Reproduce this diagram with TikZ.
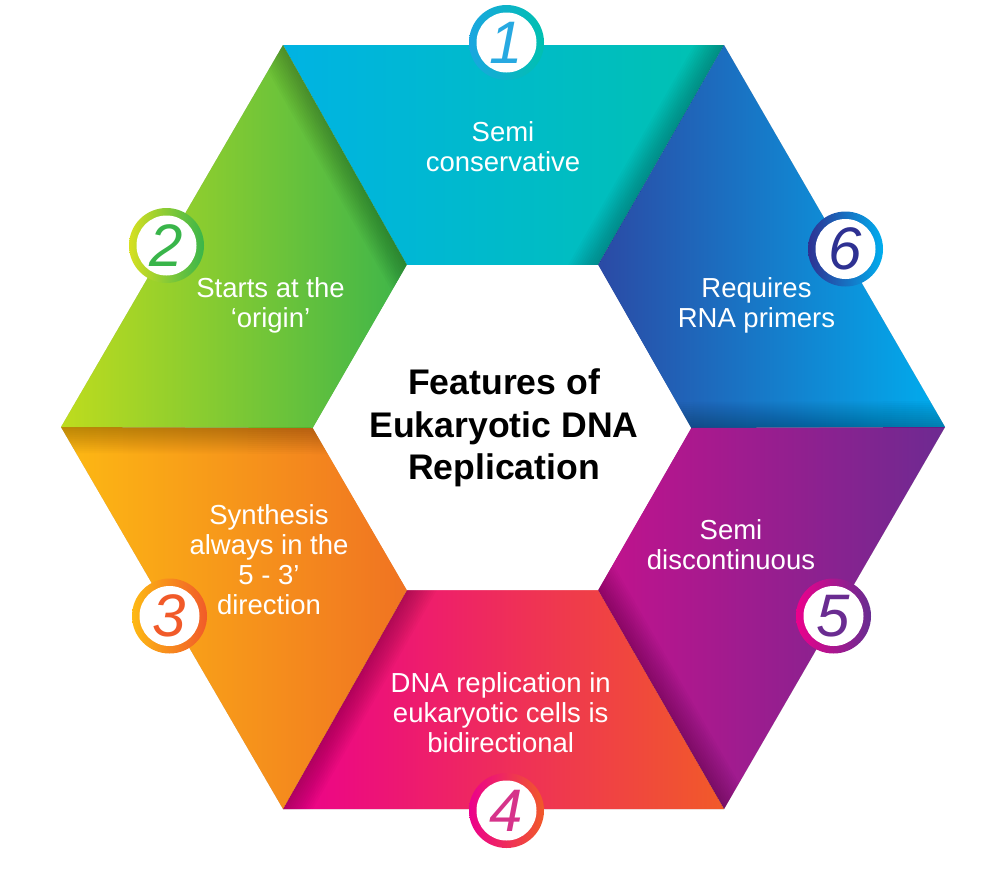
\documentclass[tikz,border=0pt]{standalone}
\usepackage{fontspec}
\setmainfont{Liberation Sans}
\definecolor{s1l}{HTML}{00B3E3}\definecolor{s1r}{HTML}{00C2B0}
\definecolor{s2l}{HTML}{BEDC1E}\definecolor{s2r}{HTML}{3DB54A}
\definecolor{s3l}{HTML}{FDB913}\definecolor{s3r}{HTML}{F07322}
\definecolor{s4l}{HTML}{EC008C}\definecolor{s4r}{HTML}{F15A29}
\definecolor{s5l}{HTML}{C2128D}\definecolor{s5r}{HTML}{6D2A91}
\definecolor{s6l}{HTML}{2B4AA5}\definecolor{s6r}{HTML}{00AEEF}
\definecolor{r1l}{HTML}{1AA6E0}\definecolor{r1r}{HTML}{00C0B0}
\definecolor{r2l}{HTML}{D7E021}\definecolor{r2r}{HTML}{39B54A}
\definecolor{r3l}{HTML}{FDB913}\definecolor{r3r}{HTML}{F15A29}
\definecolor{r4l}{HTML}{EC008C}\definecolor{r4r}{HTML}{F15A29}
\definecolor{r5l}{HTML}{EC008C}\definecolor{r5r}{HTML}{662D91}
\definecolor{r6l}{HTML}{2E3192}\definecolor{r6r}{HTML}{00AEEF}
\definecolor{d1}{HTML}{27A9E1}\definecolor{d2}{HTML}{39B54A}
\definecolor{d3}{HTML}{F15A29}\definecolor{d4}{HTML}{D6338A}
\definecolor{d5}{HTML}{6A2C91}\definecolor{d6}{HTML}{2E3192}
\tikzset{
  lbl/.style={text=white, align=center, inner sep=0pt, font=\fontsize{27.5}{30}\selectfont},
  title/.style={text=black, align=center, inner sep=0pt, font=\fontsize{35.6}{42.5}\selectfont\bfseries},
  numdisc/.style={circle, fill=white, minimum size=60pt, inner sep=0pt, font=\fontsize{60}{60}\selectfont\itshape},
  foldshade/.style={draw=black, opacity=0.02, line cap=rect}
}
\begin{document}
\begin{tikzpicture}[x=1pt,y=-1pt]
\useasboundingbox (0,0) rectangle (1006,886);
\coordinate (TL) at (283,45);  \coordinate (TR) at (724,45);
\coordinate (R)  at (945,427); \coordinate (BR) at (724,809);
\coordinate (BL) at (283,809); \coordinate (L)  at (61,427);
\coordinate (iTL) at (407,265); \coordinate (iTR) at (598,265);
\coordinate (iR)  at (691,428); \coordinate (iBR) at (598,590);
\coordinate (iBL) at (407,590); \coordinate (iL)  at (313,428);
% soft outer shadow
\foreach \i in {1,...,14}{
  \fill[black, opacity=0.014, shift={(0,10)}, scale around={1+0.004*\i:(503,427)}]
    (TL)--(TR)--(R)--(BR)--(BL)--(L)--cycle;
}
% segments
\shade[left color=s1l, right color=s1r] (TL)--(TR)--(iTR)--(iTL)--cycle;
\shade[left color=s6l, right color=s6r] (TR)--(R)--(iR)--(iTR)--cycle;
\shade[left color=s5l, right color=s5r] (R)--(BR)--(iBR)--(iR)--cycle;
\shade[left color=s4l, right color=s4r] (BR)--(BL)--(iBL)--(iBR)--cycle;
\shade[left color=s3l, right color=s3r] (BL)--(L)--(iL)--(iBL)--cycle;
\shade[left color=s2l, right color=s2r] (L)--(TL)--(iTL)--(iL)--cycle;
% fold shadows
\begin{scope}\clip (TL)--(TR)--(iTR)--(iTL)--cycle;
  \foreach \w in {4,8,...,52} \draw[foldshade, line width=\w pt] (TR)--(iTR);
\end{scope}
\begin{scope}\clip (TR)--(R)--(iR)--(iTR)--cycle;
  \foreach \w in {4,8,...,52} \draw[foldshade, line width=\w pt] (R)--(iR);
\end{scope}
\begin{scope}\clip (R)--(BR)--(iBR)--(iR)--cycle;
  \foreach \w in {4,8,...,52} \draw[foldshade, line width=\w pt] (BR)--(iBR);
\end{scope}
\begin{scope}\clip (BR)--(BL)--(iBL)--(iBR)--cycle;
  \foreach \w in {4,8,...,52} \draw[foldshade, line width=\w pt] (BL)--(iBL);
\end{scope}
\begin{scope}\clip (BL)--(L)--(iL)--(iBL)--cycle;
  \foreach \w in {4,8,...,52} \draw[foldshade, line width=\w pt] (L)--(iL);
\end{scope}
\begin{scope}\clip (L)--(TL)--(iTL)--(iL)--cycle;
  \foreach \w in {4,8,...,52} \draw[foldshade, line width=\w pt] (TL)--(iTL);
\end{scope}
% centre
\fill[white] (iTL)--(iTR)--(iR)--(iBR)--(iBL)--(iL)--cycle;
\node[title] (ttl) at (504,428) {Features of\\Eukaryotic DNA\\Replication};
% labels
\node[lbl] (t1) at (503,147) {Semi\\conservative};
\node[lbl] (t2) at (270.5,305) {Starts at the\\‘origin’};
\node[lbl] (t3) at (269,560) {Synthesis\\always in the\\5 - 3’\\direction};
\node[lbl] (t4) at (500.7,712.5) {DNA replication in\\eukaryotic cells is\\bidirectional};
\node[lbl] (t5) at (731,545) {Semi\\discontinuous};
\node[lbl] (t6) at (756.5,305) {Requires\\RNA primers};
% number discs
\shade[left color=r1l, right color=r1r] (506.5,42.5) circle (37.5);
\node[numdisc, text=d1] (n1) at (506.5,42.5) {1};
\shade[left color=r2l, right color=r2r] (166.5,245.5) circle (37.5);
\node[numdisc, text=d2] (n2) at (166.5,245.5) {2};
\shade[left color=r3l, right color=r3r] (169.5,616) circle (37.5);
\node[numdisc, text=d3] (n3) at (169.5,616) {3};
\shade[left color=r4l, right color=r4r] (506.5,810.5) circle (37.5);
\node[numdisc, text=d4] (n4) at (506.5,810.5) {4};
\shade[left color=r5l, right color=r5r] (833.5,616) circle (37.5);
\node[numdisc, text=d5] (n5) at (833.5,616) {5};
\shade[left color=r6l, right color=r6r] (845.5,249) circle (37.5);
\node[numdisc, text=d6] (n6) at (845.5,249) {6};
\end{tikzpicture}
\end{document}
